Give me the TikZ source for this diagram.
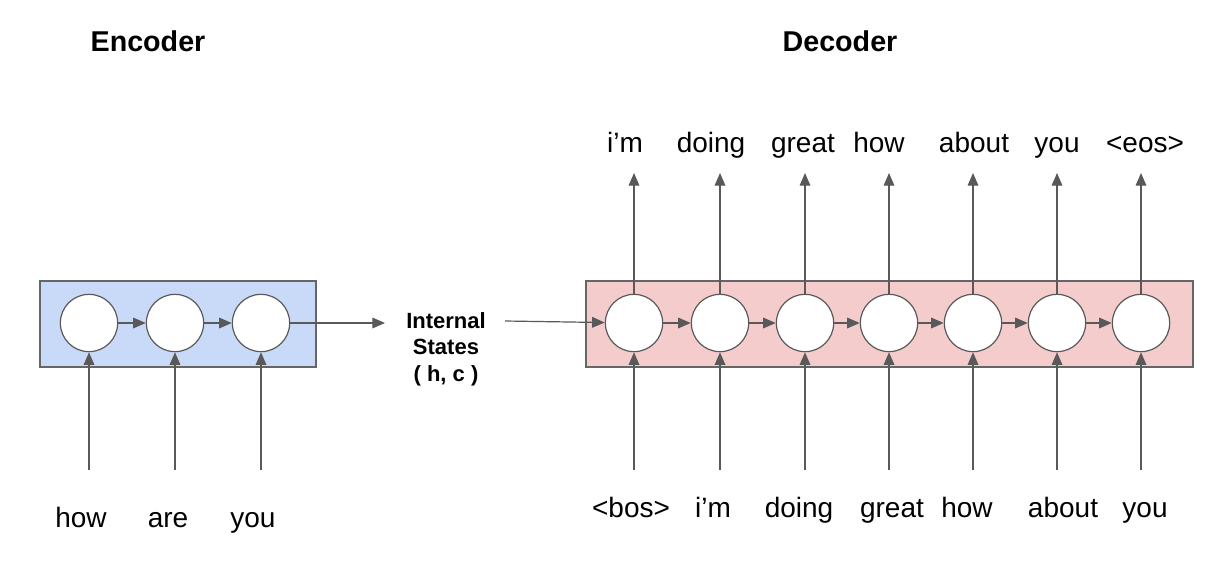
\documentclass[tikz,border=0pt]{standalone}
\usepackage{fontspec}
\setmainfont{Liberation Sans}
\usetikzlibrary{arrows.meta}
\definecolor{EncBlue}{HTML}{C9DAF8}
\definecolor{DecPink}{HTML}{F4CCCC}
\definecolor{Edge}{HTML}{666666}
\definecolor{Wire}{HTML}{595959}

\tikzset{
  cell/.style={circle, draw=Wire, fill=white, line width=0.9pt, minimum size=43pt, inner sep=0pt},
  layer/.style={draw=Edge, line width=1.1pt},
  wire/.style={draw=Wire, line width=0.9pt, -{Triangle[length=9.5pt,width=8pt]}},
  word/.style={font=\fontsize{21}{25}\selectfont, inner sep=0pt, anchor=base},
  title/.style={font=\fontsize{21.5}{25}\selectfont\bfseries, inner sep=0pt, anchor=base},
}

\begin{document}
\begin{tikzpicture}[x=0.75pt, y=-0.75pt]
  \useasboundingbox (0,0) rectangle (1230,567);
  \draw[layer, fill=EncBlue] (40,281) rectangle (316,367);
  \draw[layer, fill=DecPink] (586,281) rectangle (1193,367);

  \node[title] (enc) at (148,51) {Encoder};
  \node[title] (dec) at (840,51) {Decoder};

  % encoder cells and inputs
  \foreach \i/\x/\w/\lx in {1/89/how/81, 2/175/are/168, 3/261/you/253} {
    \node[cell] (e\i) at (\x,323) {};
    \node[word] (ew\i) at (\lx,527) {\w};
    \coordinate (ein\i) at (\x,470);
    \draw[wire] (ein\i) -- (e\i);
  }
  \foreach \i/\j in {1/2, 2/3}
    \draw[wire] (e\i) -- (e\j);

  % decoder cells, inputs and outputs
  \foreach \i/\x/\inw/\inx/\outw/\outx in {
      1/634/<bos>/631/i’m/625,
      2/720/i’m/713/doing/711,
      3/805/doing/799/great/803,
      4/889/great/892/how/879,
      5/973/how/967/about/974,
      6/1057/about/1063/you/1057,
      7/1141/you/1145/<eos>/1145} {
    \node[cell] (d\i) at (\x,323) {};
    \node[word] (din\i) at (\inx,517) {\inw};
    \node[word] (dout\i) at (\outx,152) {\outw};
    \coordinate (dbot\i) at (\x,470);
    \coordinate (dtop\i) at (\x,173);
    \draw[wire] (dbot\i) -- (d\i);
    \draw[wire] (d\i) -- (dtop\i);
  }
  \foreach \i/\j in {1/2, 2/3, 3/4, 4/5, 5/6, 6/7}
    \draw[wire] (d\i) -- (d\j);

  % hand-over of the states
  \node[align=center, font=\fontsize{16.5}{20}\selectfont\bfseries] (states) at (446,349) {Internal\\States\\( h, c )};
  \coordinate (hout) at (385,323);
  \coordinate (hin) at (505,321);
  \draw[wire] (e3) -- (hout);
  \draw[wire] (hin) -- (d1);
\end{tikzpicture}
\end{document}
